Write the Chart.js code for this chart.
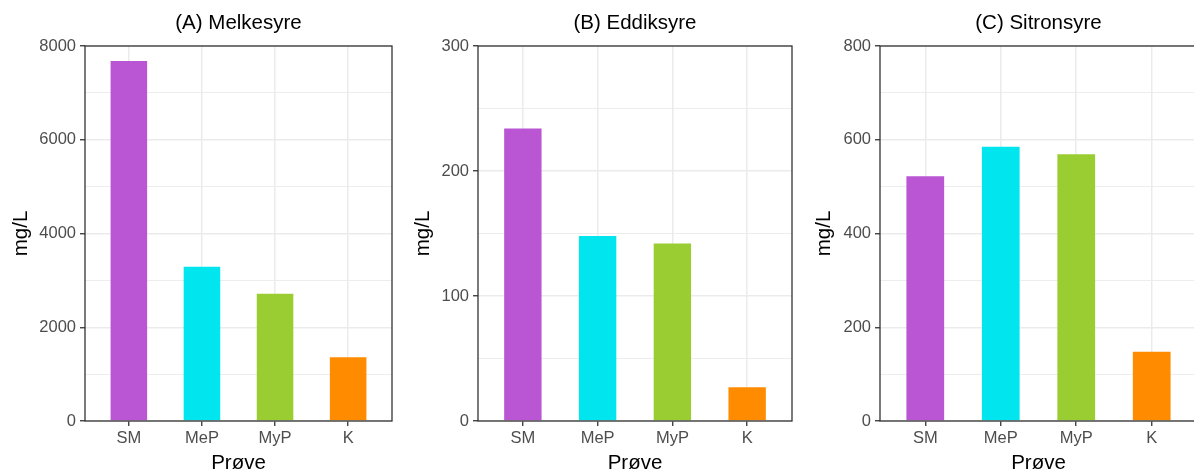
<!DOCTYPE html>
<html>
<head>
<meta charset="utf-8">
<script src="https://cdn.jsdelivr.net/npm/chart.js@4/dist/chart.umd.min.js"></script>
<style>
  html, body { margin: 0; padding: 0; background: #fff; overflow: hidden; width: 1194px; height: 473px; }
  canvas { position: absolute; top: 0; }
</style>
</head>
<body>
<canvas id="cA" width="397" height="473" style="left:0px"></canvas>
<canvas id="cB" width="400" height="473" style="left:397px"></canvas>
<canvas id="cC" width="410" height="473" style="left:796px"></canvas>
<script>
// Samples and measured concentrations (mg/L)
const categories = ['SM', 'MeP', 'MyP', 'K'];
const barColors = ['#BA55D3', '#00E5EE', '#9ACD32', '#FF8C00'];
const melkesyre = [7680, 3290, 2715, 1360];
const eddiksyre = [234, 148, 142, 27];
const sitronsyre = [522, 585, 569, 148];

// Panel titles and y-axis ranges
const panelTitles = ['(A) Melkesyre', '(B) Eddiksyre', '(C) Sitronsyre'];
const yMax = [8000, 300, 800];
const yMajorStep = [2000, 100, 200];
const xTitle = 'Prøve';
const yTitle = 'mg/L';

const FONT = '"Liberation Sans", Arial, Helvetica, sans-serif';
const TICK_SIZE = 16.5;
const TITLE_SIZE = 20.5;

// Draws the panel border, the panel title and both axis titles
const panelDecor = {
  id: 'panelDecor',
  afterDatasetsDraw(chart, args, opts) {
    const { ctx, chartArea: a } = chart;
    ctx.save();
    ctx.strokeStyle = '#333333';
    ctx.lineWidth = 1.3;
    ctx.strokeRect(a.left, a.top, a.right - a.left, a.bottom - a.top);
    const cx = (a.left + a.right) / 2;
    ctx.fillStyle = '#000';
    ctx.textAlign = 'center';
    ctx.textBaseline = 'alphabetic';
    ctx.font = TITLE_SIZE + 'px ' + FONT;
    ctx.fillText(opts.title, cx, 29);
    ctx.fillText(opts.xTitle, cx, 468.5);
    ctx.textBaseline = 'middle';
    ctx.translate(opts.yTitleX, (a.top + a.bottom) / 2);
    ctx.rotate(-Math.PI / 2);
    ctx.fillText(opts.yTitle, 0, 0);
    ctx.restore();
  }
};

function makePanel(id, values, idx, axisWidth, padRight, yTitleX) {
  const major = yMajorStep[idx];
  const isMajor = v => Math.abs(v / major - Math.round(v / major)) < 1e-6;
  return new Chart(document.getElementById(id), {
    type: 'bar',
    data: {
      datasets: [{
        data: values.map((v, i) => ({ x: i, y: v })),
        backgroundColor: barColors,
        borderWidth: 0,
        categoryPercentage: 1,
        barPercentage: 0.5
      }]
    },
    options: {
      responsive: false,
      animation: false,
      layout: { padding: { top: 46, right: padRight, bottom: 0, left: 0 } },
      plugins: {
        legend: { display: false },
        tooltip: { enabled: false },
        panelDecor: { title: panelTitles[idx], xTitle: xTitle, yTitle: yTitle, yTitleX: yTitleX }
      },
      scales: {
        x: {
          type: 'linear',
          min: -0.6,
          max: 3.6,
          offset: false,
          afterBuildTicks: s => { s.ticks = categories.map((c, i) => ({ value: i })); },
          afterFit: s => { s.height = 52; },
          border: { display: false },
          grid: { offset: false, color: '#EBEBEB', lineWidth: 1.5, tickColor: '#333333', tickLength: 5, tickWidth: 1.3 },
          ticks: {
            autoSkip: false,
            maxRotation: 0,
            padding: 3,
            color: '#4D4D4D',
            font: { family: FONT, size: TICK_SIZE },
            callback: v => categories[v]
          }
        },
        y: {
          type: 'linear',
          min: 0,
          max: yMax[idx],
          afterFit: s => { s.width = axisWidth; },
          border: { display: false },
          grid: {
            color: '#EBEBEB',
            lineWidth: c => isMajor(c.tick.value) ? 1.5 : 0.9,
            tickColor: c => isMajor(c.tick.value) ? '#333333' : 'rgba(0,0,0,0)',
            tickLength: 5,
            tickWidth: 1.3
          },
          ticks: {
            stepSize: major / 2,
            autoSkip: false,
            padding: 4,
            color: '#4D4D4D',
            font: { family: FONT, size: TICK_SIZE },
            callback: v => isMajor(v) ? String(v) : ''
          }
        }
      }
    },
    plugins: [panelDecor]
  });
}

makePanel('cA', melkesyre, 0, 85, 5, 21);
makePanel('cB', eddiksyre, 1, 81, 5, 26);
makePanel('cC', sitronsyre, 2, 84, 9, 28);
</script>
</body>
</html>
